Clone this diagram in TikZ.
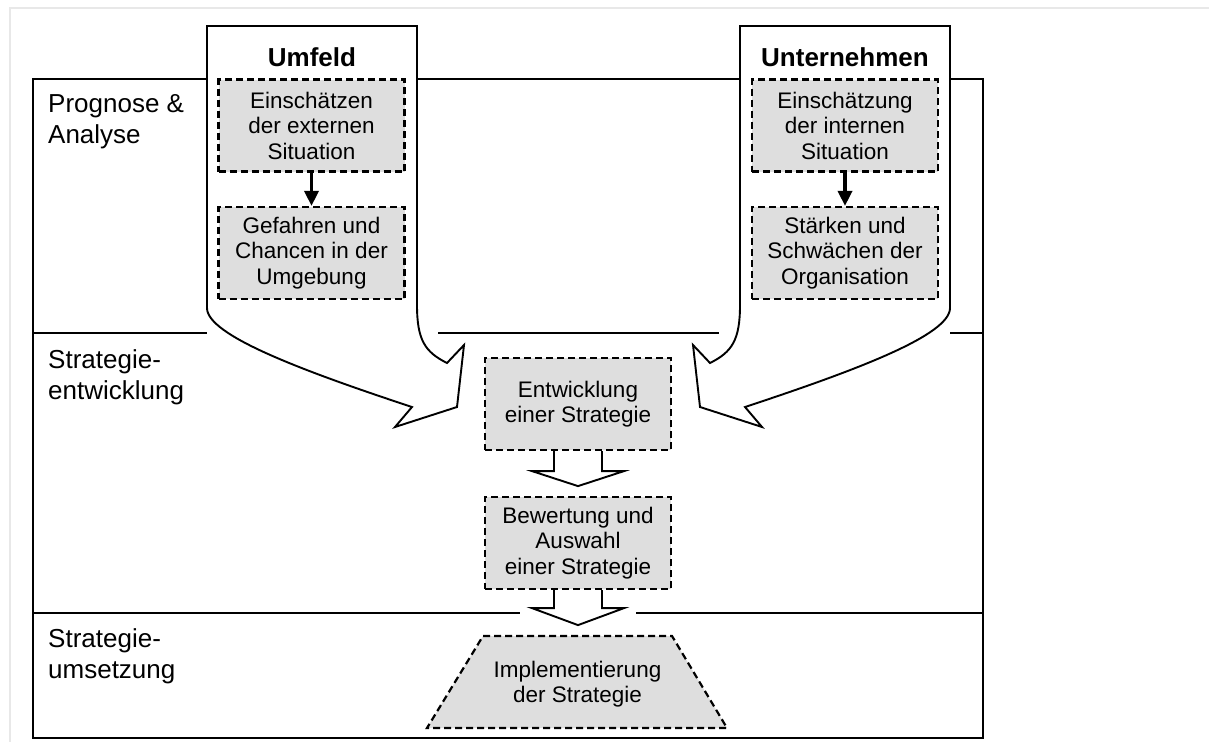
\documentclass[tikz,border=0pt]{standalone}
\usepackage{fontspec}
\setmainfont{Liberation Sans}
\usetikzlibrary{calc,arrows.meta}
\definecolor{boxgrey}{RGB}{222,222,222}
\definecolor{pagegrey}{RGB}{232,232,232}

\begin{document}
\begin{tikzpicture}[x=1pt,y=-1pt,
  frame/.style={line width=1.9pt, line join=miter},
  task/.style={draw, dash pattern=on 7pt off 4pt, line width=2.2pt, fill=boxgrey,
    minimum width=186pt, minimum height=92pt, inner sep=0pt, align=center,
    font=\fontsize{22.5}{25.5}\selectfont},
  phase/.style={anchor=north west, inner sep=0pt, align=left,
    font=\fontsize{26}{31.5}\selectfont},
  title/.style={inner sep=0pt, font=\fontsize{26}{31}\selectfont\bfseries},
  flow/.style={line width=3.5pt, -{Triangle[width=14pt,length=15pt]}},
  hollow/.style={frame, fill=white}
]
\useasboundingbox (0,0) rectangle (1209,742);

% page edge
\draw[pagegrey, line width=2pt] (10,742) -- (10,8) -- (1209,8);

% outer frame of the three phases
\draw[frame] (207,79) -- (33,79) -- (33,738) -- (983,738) -- (983,79) -- (950,79);
\draw[frame] (417,79) -- (740,79);
% phase dividers
\draw[frame] (33,333) -- (207,333);
\draw[frame] (438,333) -- (719,333);
\draw[frame] (950,333) -- (983,333);
\draw[frame] (33,613) -- (520,613);
\draw[frame] (636,613) -- (983,613);

% bent arrow: environment
\draw[hollow] (207,26) -- (417,26) -- (417,305)
  .. controls (417,340) and (425,352) .. (447,363)
  -- (464,345) -- (457,407) -- (395,427) -- (412,407)
  .. controls (300,370) and (207,335) .. (207,308) -- cycle;
% bent arrow: company
\draw[hollow] (950,26) -- (740,26) -- (740,305)
  .. controls (740,340) and (732,352) .. (710,363)
  -- (693,345) -- (700,407) -- (762,427) -- (745,407)
  .. controls (857,370) and (950,335) .. (950,308) -- cycle;

% phase labels
\node[phase] (p1) at (48,94) {Prognose \&\\Analyse};
\node[phase] (p2) at (48,349) {Strategie-\\entwicklung};
\node[phase] (p3) at (48,628) {Strategie-\\umsetzung};

% titles
\node[title] (tu) at (312,57) {Umfeld};
\node[title] (tc) at (845,57) {Unternehmen};

% analysis boxes
\node[task] (ext) at (311.5,125.5) {Einschätzen\\der externen\\Situation};
\node[task] (gef) at (311.5,253) {Gefahren und\\Chancen in der\\Umgebung};
\node[task] (int) at (845,125.5) {Einschätzung\\der internen\\Situation};
\node[task] (sta) at (845,253) {Stärken und\\Schwächen der\\Organisation};
\draw[flow] (ext.south) -- (gef.north);
\draw[flow] (int.south) -- (sta.north);

% strategy boxes
\node[task] (ent) at (578,404) {Entwicklung\\einer Strategie};
\node[task] (bew) at (578,543) {Bewertung und\\Auswahl\\einer Strategie};

% hollow block arrows
\draw[hollow] ($(ent.south)+(-24,0)$) -- ++(0,20) -- ++(-22,0)
  -- ($(ent.south)+(0,35)$) -- ($(ent.south)+(46,20)$) -- ++(-22,0)
  -- ($(ent.south)+(24,0)$);
\draw[hollow] ($(bew.south)+(-24,0)$) -- ++(0,18) -- ++(-22,0)
  -- ($(bew.south)+(0,35)$) -- ($(bew.south)+(46,18)$) -- ++(-22,0)
  -- ($(bew.south)+(24,0)$);

% implementation trapezoid
\draw[dash pattern=on 7pt off 4pt, line width=2.2pt, fill=boxgrey]
  (483,636) -- (672,636) -- (727,728) -- (427,728) -- cycle;
\node[inner sep=0pt, align=center, font=\fontsize{22.5}{25.5}\selectfont]
  (imp) at (577.5,684) {Implementierung\\der Strategie};
\end{tikzpicture}
\end{document}
